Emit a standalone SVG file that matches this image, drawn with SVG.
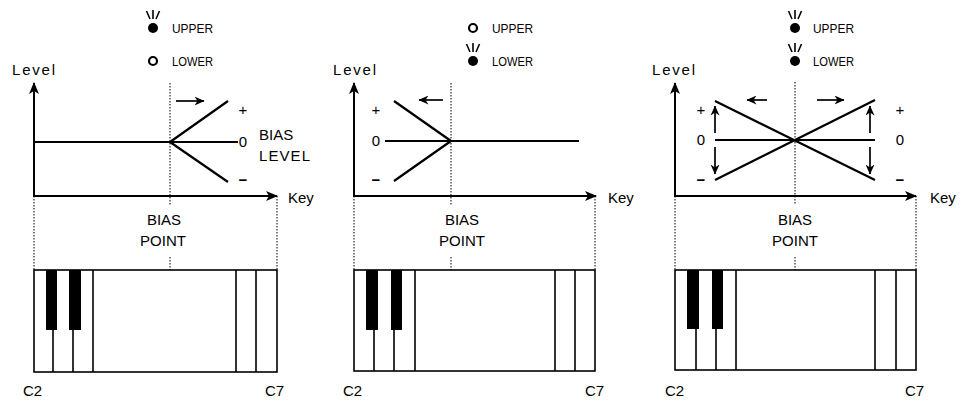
<svg xmlns="http://www.w3.org/2000/svg" width="963" height="400" viewBox="0 0 963 400">
<style>
text{font-family:"Liberation Sans",Arial,sans-serif;fill:#000}
.lbl{font-size:15px}
.ind{font-size:13.5px}
.sym{font-size:15px}
.minus{font-size:15px;font-weight:bold}
.axis{stroke:#000;stroke-width:2;fill:none}
.curve{stroke:#000;stroke-width:2.2;fill:none}
.dot{stroke:#000;stroke-width:1;stroke-dasharray:1.5 1.5;fill:none}
.kb{stroke:#000;stroke-width:1.6;fill:#fff}
.kl{stroke:#000;stroke-width:1.6;fill:none}
.bk{fill:#000}
.arr{stroke:#000;stroke-width:1.7;fill:none}
.ray{stroke:#000;stroke-width:1.6}
</style>
<defs>
<marker id="ah" viewBox="0 0 12 10" refX="11" refY="5" markerWidth="12" markerHeight="10" markerUnits="userSpaceOnUse" orient="auto">
<path d="M0,0 L12,5 L0,10 L3,5 Z" fill="#000"/>
</marker>
<marker id="sh" viewBox="0 0 10 9" refX="9.5" refY="4.5" markerWidth="10" markerHeight="9" markerUnits="userSpaceOnUse" orient="auto">
<path d="M0,0 L10,4.5 L0,9 L3,4.5 Z" fill="#000"/>
</marker>
<g id="rays"><line class="ray" x1="-6.5" y1="-17" x2="-3" y2="-9"/><line class="ray" x1="0" y1="-18" x2="0" y2="-9"/><line class="ray" x1="6.5" y1="-17" x2="3" y2="-9"/></g>
</defs>

<!-- Panel 1 -->
<g id="panel1">
<g id="p1-indicators">
<use href="#rays" x="153" y="28"/><circle cx="153" cy="28" r="5" fill="#000"/>
<text class="ind" x="172" y="33" textLength="41" lengthAdjust="spacingAndGlyphs">UPPER</text>
<circle cx="153" cy="61" r="4" fill="none" stroke="#000" stroke-width="2.2"/>
<text class="ind" x="172" y="66" textLength="41" lengthAdjust="spacingAndGlyphs">LOWER</text>
</g>
<text class="lbl" x="12" y="75" textLength="43">Level</text>
<g id="p1-connectors">
<line class="axis" x1="34" y1="196" x2="34" y2="83" marker-end="url(#ah)"/>
<line class="axis" x1="33" y1="196" x2="277" y2="196" marker-end="url(#ah)"/>
<line class="dot" x1="170" y1="83" x2="170" y2="205"/>
<line class="dot" x1="170" y1="257" x2="170" y2="372"/>
<line class="dot" x1="34" y1="196" x2="34" y2="270"/>
<line class="dot" x1="277" y1="196" x2="277" y2="270"/>
<path class="curve" d="M34,142 L238,142 M170,142 L228,101 M170,142 L228,182"/>
<line class="arr" x1="176" y1="101" x2="204" y2="101" marker-end="url(#sh)"/>
</g>
<text class="sym" x="243" y="115" text-anchor="middle">+</text>
<text class="sym" x="243" y="147" text-anchor="middle">0</text>
<text class="minus" x="243" y="185" text-anchor="middle">−</text>
<text class="lbl" x="259" y="140">BIAS</text>
<text class="lbl" x="259" y="161" textLength="51">LEVEL</text>
<text class="lbl" x="288" y="203">Key</text>
<text class="lbl" x="164" y="225" text-anchor="middle">BIAS</text>
<text class="lbl" x="163" y="246" text-anchor="middle">POINT</text>
<g id="p1-keyboard">
<rect class="kb" x="34" y="270" width="243" height="102"/>
<rect class="bk" x="46" y="270" width="11" height="60"/>
<rect class="bk" x="69" y="270" width="12" height="60"/>
<path class="kl" d="M53,330 V372 M73,330 V372 M93,270 V372 M236,270 V372 M256,270 V372"/>
</g>
<text class="lbl" x="23" y="396">C2</text>
<text class="lbl" x="265" y="396">C7</text>
</g>

<!-- Panel 2 -->
<g id="panel2">
<g id="p2-indicators">
<circle cx="473" cy="28" r="4" fill="none" stroke="#000" stroke-width="2.2"/>
<text class="ind" x="492" y="33" textLength="41" lengthAdjust="spacingAndGlyphs">UPPER</text>
<use href="#rays" x="473" y="61"/><circle cx="473" cy="61" r="5" fill="#000"/>
<text class="ind" x="492" y="66" textLength="41" lengthAdjust="spacingAndGlyphs">LOWER</text>
</g>
<text class="lbl" x="333" y="75" textLength="43">Level</text>
<g id="p2-connectors">
<line class="axis" x1="354" y1="196" x2="354" y2="83" marker-end="url(#ah)"/>
<line class="axis" x1="353" y1="196" x2="596" y2="196" marker-end="url(#ah)"/>
<line class="dot" x1="451" y1="83" x2="451" y2="205"/>
<line class="dot" x1="451" y1="257" x2="451" y2="371"/>
<line class="dot" x1="354" y1="196" x2="354" y2="270"/>
<line class="dot" x1="595" y1="196" x2="595" y2="270"/>
<path class="curve" d="M385,141 L579,141 M451,141 L394,101 M451,141 L394,181"/>
<line class="arr" x1="443" y1="100" x2="419" y2="100" marker-end="url(#sh)"/>
</g>
<text class="sym" x="376" y="115" text-anchor="middle">+</text>
<text class="sym" x="376" y="146" text-anchor="middle">0</text>
<text class="minus" x="376" y="185" text-anchor="middle">−</text>
<text class="lbl" x="608" y="203">Key</text>
<text class="lbl" x="462" y="225" text-anchor="middle">BIAS</text>
<text class="lbl" x="462" y="246" text-anchor="middle">POINT</text>
<g id="p2-keyboard">
<rect class="kb" x="354" y="270" width="241" height="101"/>
<rect class="bk" x="366" y="270" width="12" height="60"/>
<rect class="bk" x="391" y="270" width="11" height="60"/>
<path class="kl" d="M374,330 V371 M394,330 V371 M415,270 V371 M555,270 V371 M575,270 V371"/>
</g>
<text class="lbl" x="343" y="396">C2</text>
<text class="lbl" x="585" y="396">C7</text>
</g>

<!-- Panel 3 -->
<g id="panel3">
<g id="p3-indicators">
<use href="#rays" x="795" y="28"/><circle cx="795" cy="28" r="5" fill="#000"/>
<text class="ind" x="813" y="33" textLength="41" lengthAdjust="spacingAndGlyphs">UPPER</text>
<use href="#rays" x="795" y="61"/><circle cx="795" cy="61" r="5" fill="#000"/>
<text class="ind" x="813" y="66" textLength="41" lengthAdjust="spacingAndGlyphs">LOWER</text>
</g>
<text class="lbl" x="652" y="75" textLength="43">Level</text>
<g id="p3-connectors">
<line class="axis" x1="675" y1="196" x2="675" y2="83" marker-end="url(#ah)"/>
<line class="axis" x1="674" y1="196" x2="916" y2="196" marker-end="url(#ah)"/>
<line class="dot" x1="795" y1="82" x2="795" y2="205"/>
<line class="dot" x1="795" y1="257" x2="795" y2="370"/>
<line class="dot" x1="675" y1="196" x2="675" y2="270"/>
<line class="dot" x1="916" y1="196" x2="916" y2="270"/>
<path class="curve" d="M715,140 L875,140 M715,101 L875,180 M715,180 L875,100"/>
<line class="arr" x1="767" y1="100" x2="747" y2="100" marker-end="url(#sh)"/>
<line class="arr" x1="817" y1="100" x2="844" y2="100" marker-end="url(#sh)"/>
<line class="arr" x1="715" y1="133" x2="715" y2="106" marker-end="url(#sh)"/>
<line class="arr" x1="715" y1="147" x2="715" y2="174" marker-end="url(#sh)"/>
<line class="arr" x1="870" y1="133" x2="870" y2="106" marker-end="url(#sh)"/>
<line class="arr" x1="870" y1="147" x2="870" y2="174" marker-end="url(#sh)"/>
</g>
<text class="sym" x="701" y="115" text-anchor="middle">+</text>
<text class="sym" x="701" y="145" text-anchor="middle">0</text>
<text class="minus" x="701" y="185" text-anchor="middle">−</text>
<text class="sym" x="900" y="115" text-anchor="middle">+</text>
<text class="sym" x="900" y="145" text-anchor="middle">0</text>
<text class="minus" x="900" y="185" text-anchor="middle">−</text>
<text class="lbl" x="930" y="203">Key</text>
<text class="lbl" x="795" y="225" text-anchor="middle">BIAS</text>
<text class="lbl" x="795" y="246" text-anchor="middle">POINT</text>
<g id="p3-keyboard">
<rect class="kb" x="675" y="270" width="241" height="100"/>
<rect class="bk" x="687" y="270" width="12" height="59"/>
<rect class="bk" x="712" y="270" width="11" height="59"/>
<path class="kl" d="M696,329 V370 M716,329 V370 M736,270 V370 M875,270 V370 M896,270 V370"/>
</g>
<text class="lbl" x="665" y="396">C2</text>
<text class="lbl" x="905" y="396">C7</text>
</g>
</svg>
